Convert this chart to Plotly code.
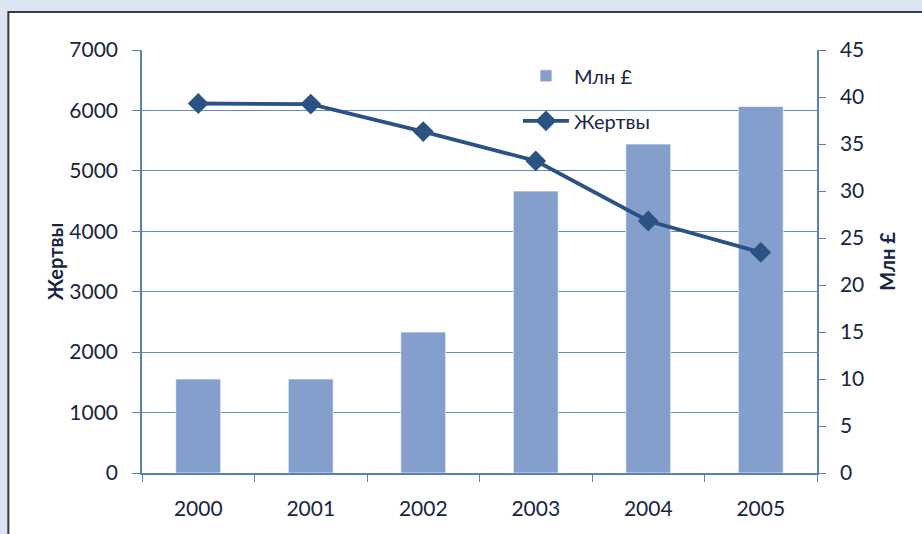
import plotly.graph_objects as go

years = ["2000", "2001", "2002", "2003", "2004", "2005"]
mln_gbp = [10, 10, 15, 30, 35, 39]
victims = [6115, 6105, 5650, 5165, 4170, 3650]
left_ticks = [0, 1000, 2000, 3000, 4000, 5000, 6000, 7000]
right_ticks = [0, 5, 10, 15, 20, 25, 30, 35, 40, 45]

FONT = "Lato"
TXT = "#17253F"
AXC = "#5B7FB8"
GRID = "#6688BE"

fig = go.Figure()
fig.add_trace(go.Bar(
    x=years, y=mln_gbp, name="Млн £", yaxis="y", width=0.4,
    marker=dict(color="#849FCB", line=dict(color="rgba(255,255,255,0.7)", width=1)),
    legendgroup="a",
))
fig.add_trace(go.Scatter(
    x=years, y=victims, name="Жертвы", yaxis="y2", mode="lines+markers",
    line=dict(color="#2A5283", width=3.8),
    marker=dict(symbol="diamond", size=16, color="#2A5283"),
    legendgroup="b",
))

fig.update_layout(
    width=922, height=534,
    margin=dict(l=142, r=105, t=50, b=61),
    paper_bgcolor="#DCE6F2",
    plot_bgcolor="rgba(0,0,0,0)",
    font=dict(family=FONT, color=TXT, size=21),
    showlegend=True,
    legend=dict(x=0.557, y=0.985, xanchor="left", yanchor="top",
                bgcolor="rgba(0,0,0,0)", font=dict(size=20, color=TXT),
                tracegroupgap=16, itemwidth=46),
    xaxis=dict(
        type="category", showline=True, linecolor=AXC, linewidth=1.5,
        ticks="outside", tickson="boundaries", ticklen=7, tickcolor=AXC,
        showgrid=False, ticklabelstandoff=16,
    ),
    yaxis=dict(
        side="right", range=[0, 45], tickvals=right_ticks, showgrid=False,
        showline=True, linecolor=AXC, linewidth=1.5, ticks="outside",
        ticklen=7, tickcolor=AXC, zeroline=False, ticklabelstandoff=10,
        title=dict(text="<b>Млн £</b>", font=dict(size=20, color=TXT), standoff=18),
    ),
    yaxis2=dict(
        side="left", overlaying="y", range=[0, 7000], tickvals=left_ticks,
        showgrid=True, gridcolor=GRID, gridwidth=1.2,
        showline=True, linecolor=AXC, linewidth=1.5, ticks="outside",
        ticklen=8, tickcolor=AXC, zeroline=False, ticklabelstandoff=10,
        title=dict(text="<b>Жертвы</b>", font=dict(size=20, color=TXT), standoff=0),
    ),
    shapes=[dict(type="rect", xref="paper", yref="paper",
                 x0=-0.198, x1=1.25, y0=-0.25, y1=1.09,
                 line=dict(color="#3A3A3A", width=2), fillcolor="white",
                 layer="below")],
)

fig.write_html(
    "out.html",
    config={"displayModeBar": False},
    post_script="document.body.style.margin='0';document.body.style.background='#DCE6F2';",
)
